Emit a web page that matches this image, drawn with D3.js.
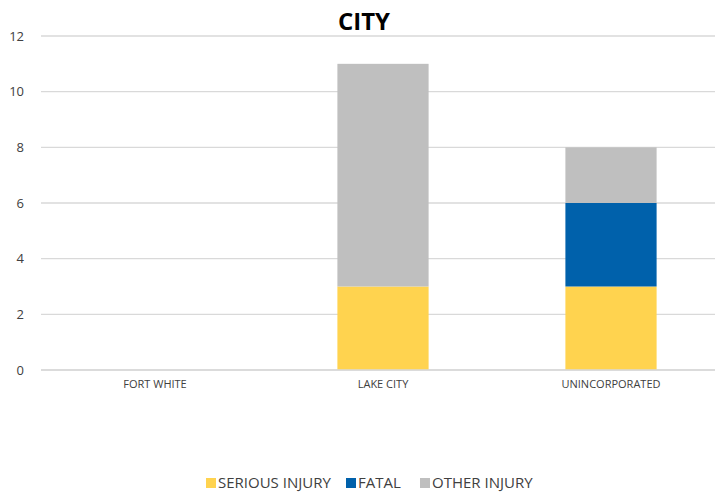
<!DOCTYPE html>
<html>
<head>
<meta charset="utf-8">
<script src="https://cdn.jsdelivr.net/npm/d3@7"></script>
<style>
  body { margin: 0; background: #fff; }
  svg { display: block; font-family: "Open Sans", "DejaVu Sans", sans-serif; }
</style>
</head>
<body>
<svg id="chart" width="715" height="493"></svg>
<script>
// data
const cities = ["FORT WHITE", "LAKE CITY", "UNINCORPORATED"];
const seriousInjury = [0, 3, 3];
const fatal = [0, 0, 3];
const otherInjury = [0, 8, 2];
const seriesNames = ["SERIOUS INJURY", "FATAL", "OTHER INJURY"];
const seriesColors = ["#FFD34F", "#0061AB", "#BFBFBF"];
const yTicks = [0, 2, 4, 6, 8, 10, 12];

let svg = d3.select("#chart");

let rows = cities.map((c, i) => ({
    city: c,
    "SERIOUS INJURY": seriousInjury[i],
    "FATAL": fatal[i],
    "OTHER INJURY": otherInjury[i]
}));

let x = d3.scaleBand().domain(cities).range([41, 725]).paddingInner(0.6).paddingOuter(0.3);
let y = d3.scaleLinear().domain([0, 12]).range([370, 36]);
let color = d3.scaleOrdinal().domain(seriesNames).range(seriesColors);

// gridlines
svg.append("g")
    .selectAll("line")
    .data(yTicks)
    .enter()
    .append("line")
    .attr("x1", 41)
    .attr("x2", 725)
    .attr("y1", d => y(d))
    .attr("y2", d => y(d))
    .attr("stroke", "#D9D9D9")
    .attr("stroke-width", 1.3);

// y axis labels
let yAxis = d3.axisLeft(y).tickValues(yTicks).tickSize(0).tickPadding(0);
svg.append("g")
    .attr("transform", "translate(24,0)")
    .call(yAxis)
    .call(g => g.select(".domain").remove())
    .selectAll("text")
    .attr("font-size", 13)
    .attr("font-family", "Open Sans, sans-serif")
    .attr("fill", "#404040");

// stacked bars
let stack = d3.stack().keys(seriesNames)(rows);
svg.append("g")
    .selectAll("g")
    .data(stack)
    .enter()
    .append("g")
    .attr("fill", d => color(d.key))
    .selectAll("rect")
    .data(d => d)
    .enter()
    .append("rect")
    .attr("x", d => x(d.data.city))
    .attr("y", d => y(d[1]))
    .attr("width", x.bandwidth())
    .attr("height", d => y(d[0]) - y(d[1]));

// baseline drawn over the bars
svg.append("line")
    .attr("x1", 41).attr("x2", 725)
    .attr("y1", y(0)).attr("y2", y(0))
    .attr("stroke", "#D9D9D9")
    .attr("stroke-width", 1.3);

// x axis labels
let xAxis = d3.axisBottom(x).tickSize(0).tickPadding(0);
svg.append("g")
    .attr("transform", "translate(0," + (y(0) + 10) + ")")
    .call(xAxis)
    .call(g => g.select(".domain").remove())
    .selectAll("text")
    .attr("font-size", 11)
    .attr("font-family", "Open Sans, sans-serif")
    .attr("fill", "#404040");

// title
svg.append("text")
    .attr("x", 364)
    .attr("y", 30)
    .attr("text-anchor", "middle")
    .attr("font-size", 24)
    .attr("font-weight", "bold")
    .attr("font-family", "Open Sans, sans-serif")
    .attr("textLength", 52)
    .attr("lengthAdjust", "spacingAndGlyphs")
    .attr("fill", "#000")
    .text("CITY");

// legend
const legendX = [206, 346, 420];
let legend = svg.append("g")
    .selectAll("g")
    .data(seriesNames)
    .enter()
    .append("g")
    .attr("transform", (d, i) => "translate(" + legendX[i] + ",483)");

legend.append("rect")
    .attr("x", 0)
    .attr("y", -5)
    .attr("width", 10)
    .attr("height", 10)
    .attr("fill", d => color(d));

legend.append("text")
    .attr("x", 12)
    .attr("y", 0)
    .attr("dy", "0.35em")
    .attr("font-size", 15)
    .attr("font-family", "Open Sans, sans-serif")
    .attr("fill", "#404040")
    .text(d => d);
</script>
</body>
</html>
